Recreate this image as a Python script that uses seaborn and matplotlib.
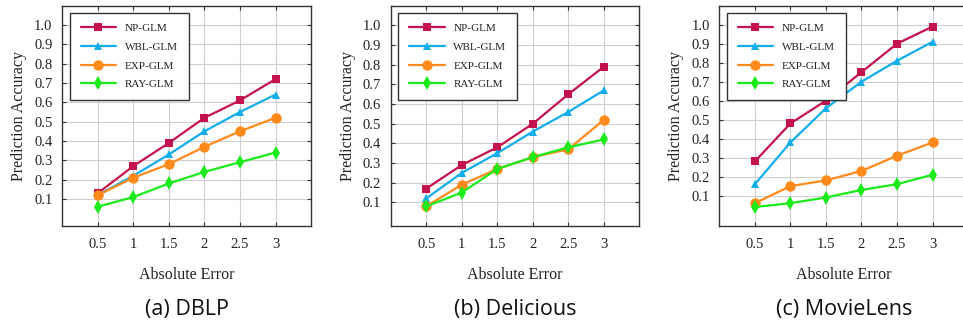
import matplotlib
matplotlib.use("Agg")
import matplotlib.pyplot as plt
import seaborn as sns
import pandas as pd

# data
errors = [0.5, 1, 1.5, 2, 2.5, 3]
methods = ["NP-GLM", "WBL-GLM", "EXP-GLM", "RAY-GLM"]

dblp = {
    "NP-GLM": [0.13, 0.27, 0.39, 0.52, 0.61, 0.72],
    "WBL-GLM": [0.12, 0.22, 0.33, 0.45, 0.55, 0.64],
    "EXP-GLM": [0.12, 0.21, 0.28, 0.37, 0.45, 0.52],
    "RAY-GLM": [0.06, 0.11, 0.18, 0.24, 0.29, 0.34],
}
delicious = {
    "NP-GLM": [0.17, 0.29, 0.38, 0.50, 0.65, 0.79],
    "WBL-GLM": [0.12, 0.25, 0.35, 0.46, 0.56, 0.67],
    "EXP-GLM": [0.08, 0.19, 0.27, 0.33, 0.37, 0.52],
    "RAY-GLM": [0.08, 0.15, 0.27, 0.33, 0.38, 0.42],
}
movielens = {
    "NP-GLM": [0.28, 0.48, 0.60, 0.75, 0.90, 0.99],
    "WBL-GLM": [0.16, 0.38, 0.56, 0.70, 0.81, 0.91],
    "EXP-GLM": [0.06, 0.15, 0.18, 0.23, 0.31, 0.38],
    "RAY-GLM": [0.04, 0.06, 0.09, 0.13, 0.16, 0.21],
}
panels = [("(a) DBLP", dblp, -0.04), ("(b) Delicious", delicious, -0.02),
          ("(c) MovieLens", movielens, -0.06)]
yticks = [0.1, 0.2, 0.3, 0.4, 0.5, 0.6, 0.7, 0.8, 0.9, 1.0]

colors = {"NP-GLM": "#C4124C", "WBL-GLM": "#12ADEB",
          "EXP-GLM": "#FF8A1C", "RAY-GLM": "#1BEB1B"}
markers = {"NP-GLM": "s", "WBL-GLM": "^", "EXP-GLM": "o", "RAY-GLM": "d"}
msizes = {"NP-GLM": 6, "WBL-GLM": 6, "EXP-GLM": 7.5, "RAY-GLM": 7}

sns.set_style("ticks")
plt.rcParams["font.family"] = ["Liberation Serif", "DejaVu Serif"]
dark = "#333333"

fig = plt.figure(figsize=(9.63, 3.27), dpi=100)
lefts = [0.0647, 0.4057, 0.747]

for left, (title, data, ymin) in zip(lefts, panels):
    ax = fig.add_axes([left, 0.3089, 0.2583, 0.6737])
    for m in methods:
        df = pd.DataFrame({"err": errors, "acc": data[m]})
        sns.lineplot(data=df, x="err", y="acc", ax=ax, color=colors[m],
                     marker=markers[m], markersize=msizes[m], markeredgewidth=0,
                     linewidth=1.6, label=m, legend=False)
    ax.set_xlim(0, 3.5)
    ax.set_ylim(ymin, 1.1)
    ax.set_xticks(errors)
    ax.set_xticklabels(["0.5", "1", "1.5", "2", "2.5", "3"])
    ax.set_yticks(yticks)
    ax.set_yticklabels([f"{v:.1f}" for v in yticks])
    ax.grid(True, color="#CFCFCF", linewidth=0.8)
    ax.set_axisbelow(True)
    for s in ax.spines.values():
        s.set_visible(True)
        s.set_color(dark)
        s.set_linewidth(1.0)
    ax.tick_params(axis="both", direction="in", length=3, width=0.8,
                   color=dark, labelsize=10.5, labelcolor="#222222",
                   top=True, right=True)
    ax.tick_params(axis="y", pad=7)
    ax.tick_params(axis="x", pad=9)
    ax.set_xlabel("Absolute Error", fontsize=11.5, color="#222222", labelpad=11)
    ax.set_ylabel("Prediction Accuracy", fontsize=11.5, color="#222222", labelpad=5)
    leg = ax.legend(loc="upper left", bbox_to_anchor=(0.031, 0.967),
                    borderaxespad=0, fontsize=8, handlelength=3.2,
                    handletextpad=0.8, labelspacing=0.8, borderpad=0.95,
                    fancybox=False, framealpha=1, edgecolor=dark)
    leg.get_frame().set_linewidth(1.0)
    for t in leg.get_texts():
        t.set_color("#222222")
    fig.text(left + 0.2583 / 2, 1 - 310 / 327, title, ha="center", va="center",
             fontsize=15.5, family="Open Sans", color="#111111")

fig.savefig("out.png", dpi=100)
